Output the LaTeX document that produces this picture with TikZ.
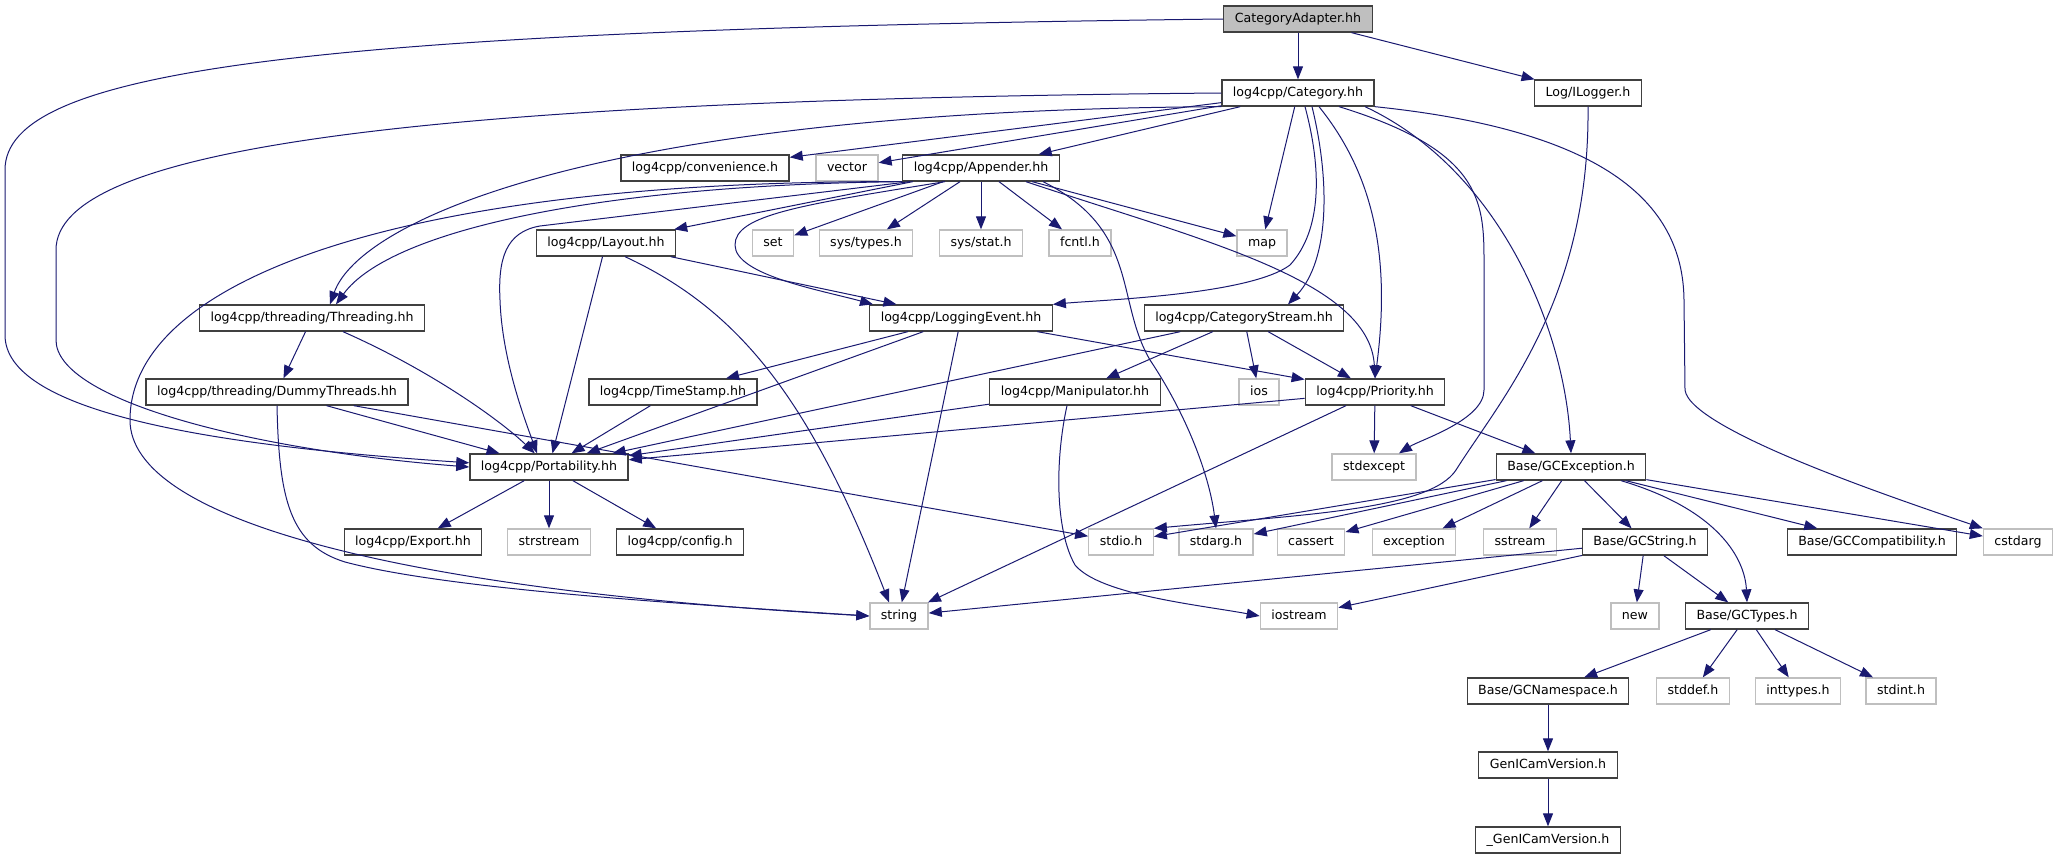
\documentclass[tikz,border=0pt]{standalone}
\usepackage{fontspec}
\setmainfont{DejaVu Sans}
\usetikzlibrary{arrows.meta}
\definecolor{edgeblue}{HTML}{191970}
\definecolor{sysgray}{HTML}{BFBFBF}
\definecolor{boxline}{HTML}{404040}

\begin{document}
\begin{tikzpicture}[x=1pt, y=-1pt,
  font=\fontsize{12.6}{15}\selectfont,
  hdr/.style={draw=boxline, line width=1.3pt, fill=white, minimum height=26pt,
    inner xsep=11pt, inner ysep=0pt, text height=9.5pt, text depth=2.8pt},
  syshdr/.style={hdr, draw=sysgray},
  roothdr/.style={hdr, fill=sysgray},
  dep/.style={draw=edgeblue, line width=1pt, -{Triangle[length=13pt,width=10pt]}}]
  \useasboundingbox (0,0) rectangle (2059,859);
  %
  \node[roothdr] (adapter) at (1298,19) {CategoryAdapter.hh};
  \node[hdr] (category) at (1298,93) {log4cpp/Category.hh};
  \node[hdr] (ilogger) at (1588,93) {Log/ILogger.h};
  \node[hdr] (convenience) at (705,168) {log4cpp/convenience.h};
  \node[syshdr] (vector) at (847,168) {vector};
  \node[hdr] (appender) at (981,168) {log4cpp/Appender.hh};
  \node[hdr] (layout) at (606,243) {log4cpp/Layout.hh};
  \node[syshdr] (set) at (773,243) {set};
  \node[syshdr] (systypes) at (866,243) {sys/types.h};
  \node[syshdr] (sysstat) at (981,243) {sys/stat.h};
  \node[syshdr] (fcntl) at (1080,243) {fcntl.h};
  \node[syshdr] (map) at (1262,243) {map};
  \node[hdr] (threading) at (312,318) {log4cpp/threading/Threading.hh};
  \node[hdr] (loggingevent) at (961,318) {log4cpp/LoggingEvent.hh};
  \node[hdr] (catstream) at (1244,318) {log4cpp/CategoryStream.hh};
  \node[hdr] (dummy) at (277,392) {log4cpp/threading/DummyThreads.hh};
  \node[hdr] (timestamp) at (673,392) {log4cpp/TimeStamp.hh};
  \node[hdr] (manipulator) at (1075,392) {log4cpp/Manipulator.hh};
  \node[syshdr] (ios) at (1259,392) {ios};
  \node[hdr] (priority) at (1375,392) {log4cpp/Priority.hh};
  \node[hdr] (portability) at (549,467) {log4cpp/Portability.hh};
  \node[syshdr] (stdexcept) at (1374,467) {stdexcept};
  \node[hdr] (gcexception) at (1571,467) {Base/GCException.h};
  \node[hdr] (export) at (413,542) {log4cpp/Export.hh};
  \node[syshdr] (strstream) at (549,542) {strstream};
  \node[hdr] (config) at (680,542) {log4cpp/config.h};
  \node[syshdr] (stdio) at (1121,542) {stdio.h};
  \node[syshdr] (stdarg) at (1216,542) {stdarg.h};
  \node[syshdr] (cassert) at (1311,542) {cassert};
  \node[syshdr] (exception) at (1414,542) {exception};
  \node[syshdr] (sstream) at (1520,542) {sstream};
  \node[hdr] (gcstring) at (1645,542) {Base/GCString.h};
  \node[hdr] (gccompat) at (1872,542) {Base/GCCompatibility.h};
  \node[syshdr] (cstdarg) at (2018,542) {cstdarg};
  \node[syshdr] (string) at (899,616) {string};
  \node[syshdr] (iostream) at (1299,616) {iostream};
  \node[syshdr] (new) at (1635,616) {new};
  \node[hdr] (gctypes) at (1747,616) {Base/GCTypes.h};
  \node[hdr] (gcnamespace) at (1548,691) {Base/GCNamespace.h};
  \node[syshdr] (stddef) at (1693,691) {stddef.h};
  \node[syshdr] (inttypes) at (1798,691) {inttypes.h};
  \node[syshdr] (stdint) at (1901,691) {stdint.h};
  \node[hdr] (genicam) at (1548,765) {GenICamVersion.h};
  \node[hdr] (genicamu) at (1548,840) {\_GenICamVersion.h};
  %
  \foreach \a/\b in {adapter/category, adapter/ilogger,
      category/convenience, category/vector, category/appender, category/map,
      appender/layout, appender/set, appender/systypes, appender/sysstat,
      appender/fcntl, appender/map,
      layout/loggingevent, layout/portability, threading/dummy,
      loggingevent/timestamp, loggingevent/portability, loggingevent/string,
      loggingevent/priority,
      catstream/portability, catstream/manipulator, catstream/ios, catstream/priority,
      dummy/portability, dummy/stdio, timestamp/portability, manipulator/portability,
      priority/portability, priority/stdexcept, priority/gcexception, priority/string,
      portability/export, portability/strstream, portability/config,
      gcexception/stdio, gcexception/stdarg, gcexception/cassert, gcexception/exception,
      gcexception/sstream, gcexception/gcstring, gcexception/gccompat, gcexception/cstdarg,
      gcstring/string, gcstring/iostream, gcstring/new, gcstring/gctypes,
      gctypes/gcnamespace, gctypes/stddef, gctypes/inttypes, gctypes/stdint,
      gcnamespace/genicam, genicam/genicamu} {
    \draw[dep] (\a) -- (\b);
  }
  %
  \draw[dep] (adapter.west) .. controls (300,30) and (5,70) .. (5,170) -- (5,335)
    .. controls (5,410) and (200,445) .. (portability.177);
  \draw[dep] (category.west) .. controls (400,100) and (56,150) .. (56,250) -- (56,340)
    .. controls (56,400) and (250,450) .. (portability.west);
  \draw[dep] (category.south west) .. controls (600,110) and (360,220) .. ([xshift=18pt]threading.north);
  \draw[dep] ([xshift=7pt]category.south) .. controls (1322,170) and (1322,230) .. (1290,265)
    .. controls (1250,295) and (1100,300) .. (loggingevent.north east);
  \draw[dep] ([xshift=14pt]category.south) .. controls (1330,180) and (1330,260) .. ([xshift=44pt]catstream.north);
  \draw[dep] ([xshift=21pt]category.south) .. controls (1370,170) and (1392,250) .. (priority.north);
  \draw[dep] ([xshift=41pt]category.south) .. controls (1480,150) and (1484,200) .. (1484,260) -- (1484,390)
    .. controls (1484,420) and (1420,440) .. ([xshift=25pt]stdexcept.north);
  \draw[dep] ([xshift=67pt]category.south) .. controls (1500,170) and (1565,330) .. (gcexception.north);
  \draw[dep] (category.south east) .. controls (1600,130) and (1683,200) .. (1684,300) -- (1685,390)
    .. controls (1690,430) and (1900,500) .. (cstdarg.north west);
  %
  \draw[dep] (ilogger.south) .. controls (1590,300) and (1500,400) .. (1456,470)
    .. controls (1430,510) and (1300,515) .. (stdio.north east);
  %
  \draw[dep] (appender.south west) .. controls (600,185) and (390,230) .. ([xshift=24pt]threading.north);
  \draw[dep] (appender.south west) .. controls (400,180) and (130,280) .. (130,420)
    .. controls (130,520) and (400,590) .. (string.west);
  \draw[dep] ([xshift=8pt]appender.south west) -- (540,226) .. controls (505,232) and (498,260) .. (500,300)
    .. controls (502,360) and (525,420) .. ([xshift=-12pt]portability.north);
  \draw[dep] ([xshift=-36pt]appender.south) .. controls (800,205) and (735,215) .. (735,245)
    .. controls (735,275) and (820,290) .. ([xshift=-88pt]loggingevent.north);
  \draw[dep] ([xshift=45pt]appender.south) .. controls (1200,240) and (1370,280) .. (priority.north);
  \draw[dep] ([xshift=62pt]appender.south) .. controls (1140,230) and (1115,300) .. (1150,360)
    .. controls (1190,420) and (1210,480) .. (stdarg.north);
  %
  \draw[dep] ([xshift=19pt]layout.south) .. controls (740,310) and (810,400) .. ([xshift=-10pt]string.north);
  \draw[dep] (threading) .. controls (430,370) and (500,420) .. (portability);
  \draw[dep] (dummy.south) .. controls (279,500) and (290,545) .. (345,562)
    .. controls (450,590) and (700,605) .. (string.west);
  \draw[dep] ([xshift=-8pt]manipulator.south) .. controls (1055,460) and (1055,530) .. (1075,565)
    .. controls (1100,595) and (1200,605) .. (iostream.west);
  \draw[dep] ([xshift=50pt]gcexception.south) .. controls (1720,510) and (1745,560) .. (gctypes.north);
\end{tikzpicture}
\end{document}
